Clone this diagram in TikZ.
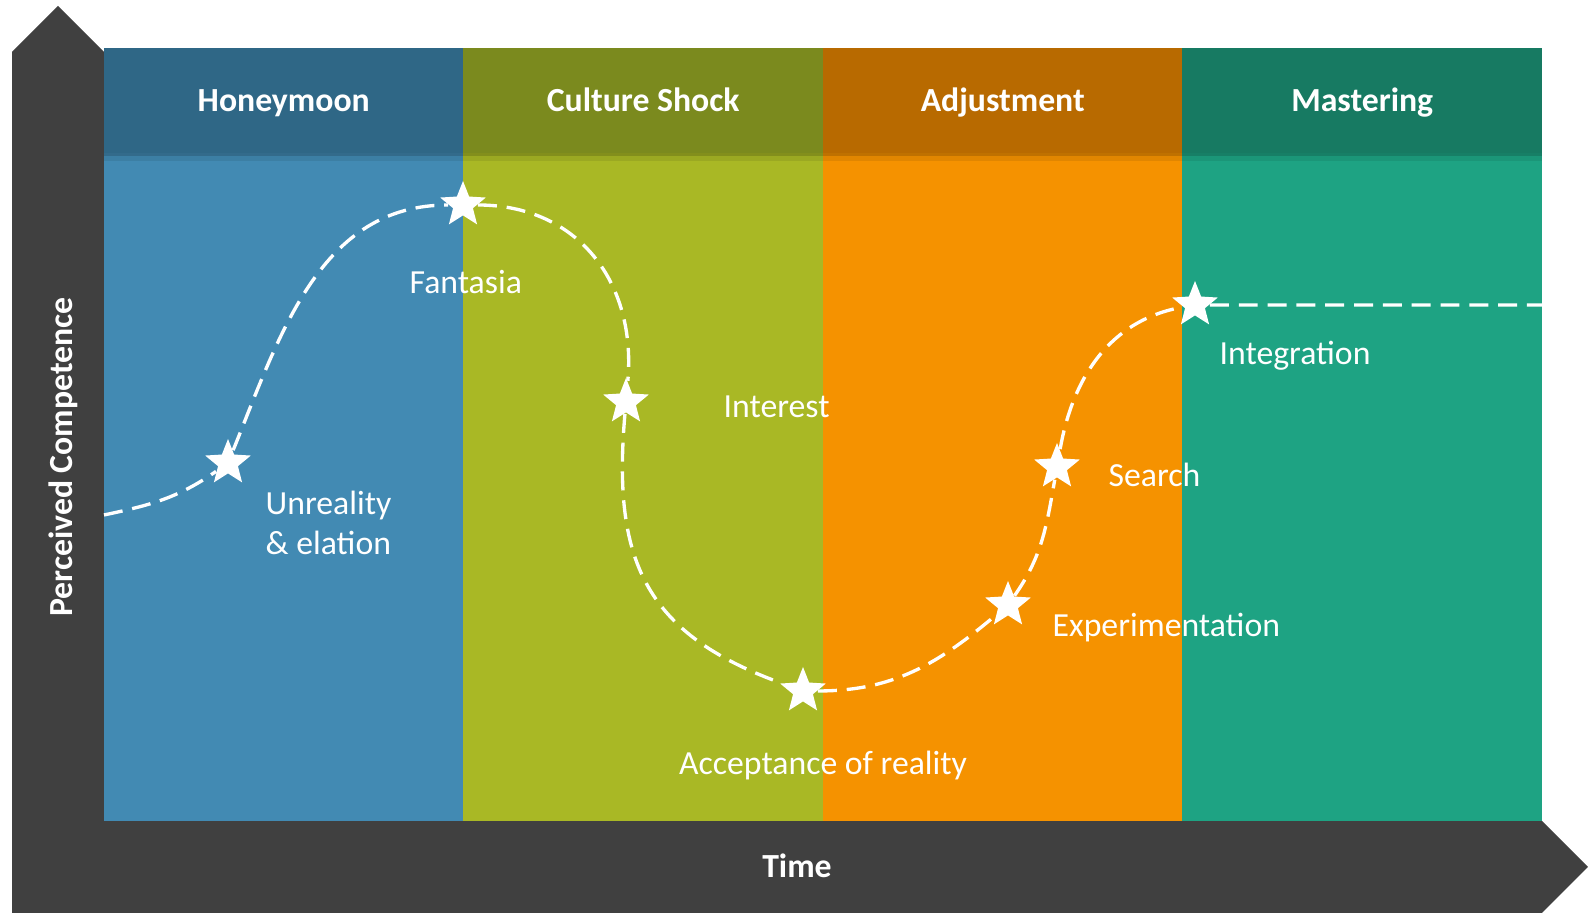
\documentclass[tikz,border=0pt]{standalone}
\usepackage{fontspec}
\setmainfont{Carlito}
\usetikzlibrary{positioning,shapes.geometric}
\definecolor{hmhead}{HTML}{2F6786}
\definecolor{hmbody}{HTML}{428AB3}
\definecolor{cshead}{HTML}{7B8A1E}
\definecolor{csbody}{HTML}{A9B825}
\definecolor{adhead}{HTML}{B86A00}
\definecolor{adbody}{HTML}{F59200}
\definecolor{mshead}{HTML}{177A62}
\definecolor{msbody}{HTML}{1EA383}
\definecolor{axisgray}{HTML}{404040}

\begin{document}
\begin{tikzpicture}[
  x=0.1mm, y=0.1mm,
  phasebody/.style={inner sep=0pt, outer sep=0pt,
                    minimum width=35.95mm, minimum height=66.8mm},
  phasehead/.style={inner sep=0pt, outer sep=0pt,
                    minimum width=35.95mm, minimum height=10.5mm,
                    text height=7.2pt, text depth=1.2pt,
                    font=\bfseries\fontsize{9.6}{11.5}\selectfont, text=white},
  milestone/.style={star, star points=5, star point ratio=2.3, fill=white,
                    inner sep=0pt, minimum size=4.8mm},
  trail/.style={white, line width=0.95pt, dash pattern=on 5.4pt off 2.8pt},
  lbl/.style={font=\fontsize{9.6}{11.5}\selectfont, text=white,
              inner sep=0pt, anchor=base west, align=left},
  axislbl/.style={font=\bfseries\fontsize{9.6}{11.5}\selectfont, text=white,
                  inner sep=0pt, anchor=base},
]
\useasboundingbox (0,0) rectangle (1588,915);

%% Axes: one grey block with both arrow heads
\fill[axisgray] (12,2) -- (12,863) -- (58,909) -- (104,863) -- (104,94)
  -- (1542,94) -- (1588,48) -- (1542,2) -- cycle;

%% Phase columns
\node[phasebody, fill=hmbody, anchor=north west] (hmbody) at (104,762) {};
\node[phasebody, fill=csbody, right=0pt of hmbody] (csbody) {};
\node[phasebody, fill=adbody, right=0pt of csbody] (adbody) {};
\node[phasebody, fill=msbody, right=0pt of adbody] (msbody) {};

\node[phasehead, fill=hmhead, above=0pt of hmbody] (hmhead) {Honeymoon};
\node[phasehead, fill=cshead, above=0pt of csbody] (cshead) {Culture Shock};
\node[phasehead, fill=adhead, above=0pt of adbody] (adhead) {Adjustment};
\node[phasehead, fill=mshead, above=0pt of msbody] (mshead) {Mastering};

% soft shadow under the header row
\fill[black, opacity=.22] (hmhead.south west) rectangle ([yshift=-0.35mm]mshead.south east);
\fill[black, opacity=.08] ([yshift=-0.35mm]hmhead.south west) rectangle ([yshift=-0.8mm]mshead.south east);

%% Milestones along the curve
\coordinate (start) at (104,400);
\coordinate (end)   at (1543,610);
\node[milestone] (unreal) at (228,452) {};
\node[milestone] (fanta)  at (463,710) {};
\node[milestone] (inter)  at (626,513) {};
\node[milestone] (accept) at (803,224) {};
\node[milestone] (exper)  at (1008,310) {};
\node[milestone] (search) at (1057,448) {};
\node[milestone] (integr) at (1195,610) {};

\draw[trail] (start) to[out=12, in=215] (unreal)
  to[out=68, in=180] (fanta)
  to[out=0, in=85, looseness=1.1] (inter)
  to[out=-95, in=160, looseness=1.2] (accept)
  to[out=0, in=220] (exper)
  to[out=55, in=-100] (search)
  to[out=80, in=190] (integr)
  -- (end);

%% Stage labels
\node[lbl] (lunreal) at (265,360) {Unreality\\\& elation};
\node[lbl] (lfanta)  at (409,621) {Fantasia};
\node[lbl] (linter)  at (723,497) {Interest};
\node[lbl, anchor=base] (laccept) at (823,140) {Acceptance of reality};
\node[lbl] (lexper)  at (1052,278) {Experimentation};
\node[lbl] (lsearch) at (1108,428) {Search};
\node[lbl] (lintegr) at (1219,550) {Integration};

%% Axis titles
\node[axislbl] (time) at (797,37) {Time};
\node[axislbl, rotate=90] (comp) at (72,458) {Perceived Competence};

\end{tikzpicture}
\end{document}
